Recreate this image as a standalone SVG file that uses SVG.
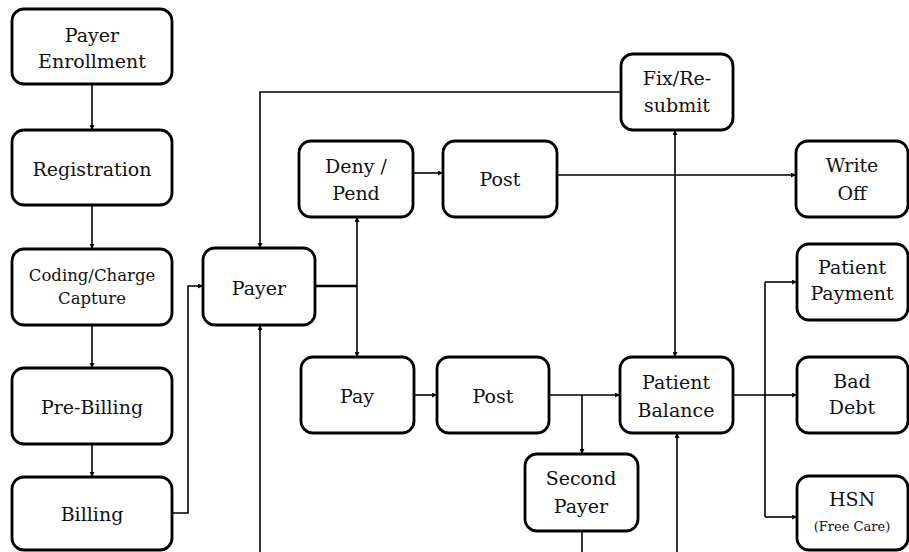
<svg xmlns="http://www.w3.org/2000/svg" width="909" height="552" viewBox="0 0 909 552">
  <style>
    .box { fill: #ffffff; stroke: #000000; stroke-width: 2.8; }
    .lbl { font-family: "DejaVu Serif", "Liberation Serif", serif; font-size: 19px; fill: #111111; text-anchor: middle; }
    .sm { font-size: 16.5px; }
    .xs { font-size: 13px; }
    .wire { fill: none; stroke: #000000; stroke-width: 1.6; }
    .arr { marker-end: url(#tip); }
  </style>
  <defs>
    <marker id="tip" viewBox="0 0 10 10" refX="10" refY="5" markerWidth="6" markerHeight="5" markerUnits="userSpaceOnUse" orient="auto">
      <path d="M0,0 L10,5 L0,10 z" fill="#000000"/>
    </marker>
  </defs>

  <rect width="909" height="552" fill="#ffffff"/>

  <!-- connectors -->
  <g id="connectors">
    <path class="wire arr" d="M92,84 V130"/>
    <path class="wire arr" d="M92,205 V249"/>
    <path class="wire arr" d="M92,325 V368"/>
    <path class="wire arr" d="M92,444 V477"/>
    <path class="wire arr" d="M172,513 H188 V286 H203"/>
    <path class="wire arr" d="M260,552 V325"/>
    <path class="wire arr" d="M621,92 H260 V248"/>
    <path class="wire" style="stroke-width:2.6" d="M315,286 H357"/>
    <path class="wire arr" d="M357,286 V217"/>
    <path class="wire arr" d="M357,286 V357"/>
    <path class="wire arr" d="M413,173 H443"/>
    <path class="wire arr" d="M557,175 H796"/>
    <path class="wire arr" d="M675,175 V130"/>
    <path class="wire arr" d="M675,175 V357"/>
    <path class="wire arr" d="M414,395 H437"/>
    <path class="wire arr" d="M549,395 H620"/>
    <path class="wire arr" d="M582,395 V454"/>
    <path class="wire" d="M582,531 V552"/>
    <path class="wire arr" d="M677,552 V433"/>
    <path class="wire" d="M733,395 H765 M765,282 V517"/>
    <path class="wire arr" d="M765,282 H797"/>
    <path class="wire arr" d="M765,395 H797"/>
    <path class="wire arr" d="M765,517 H797"/>
  </g>

  <!-- nodes -->
  <g id="payer-enrollment">
    <rect class="box" x="12" y="9" width="160" height="75" rx="12"/>
    <text class="lbl" x="92" y="42">Payer</text>
    <text class="lbl" x="92" y="68">Enrollment</text>
  </g>
  <g id="registration">
    <rect class="box" x="12" y="130" width="160" height="75" rx="12"/>
    <text class="lbl" x="92" y="176">Registration</text>
  </g>
  <g id="coding-charge-capture">
    <rect class="box" x="12" y="249" width="160" height="76" rx="12"/>
    <text class="lbl sm" x="92" y="281">Coding/Charge</text>
    <text class="lbl sm" x="92" y="304">Capture</text>
  </g>
  <g id="pre-billing">
    <rect class="box" x="12" y="368" width="160" height="76" rx="12"/>
    <text class="lbl" x="92" y="414">Pre-Billing</text>
  </g>
  <g id="billing">
    <rect class="box" x="12" y="477" width="160" height="73" rx="12"/>
    <text class="lbl" x="92" y="521">Billing</text>
  </g>
  <g id="payer">
    <rect class="box" x="203" y="248" width="112" height="77" rx="12"/>
    <text class="lbl" x="259" y="295">Payer</text>
  </g>
  <g id="deny-pend">
    <rect class="box" x="299" y="141" width="114" height="76" rx="12"/>
    <text class="lbl" x="356" y="173">Deny /</text>
    <text class="lbl" x="356" y="200">Pend</text>
  </g>
  <g id="post-denied">
    <rect class="box" x="443" y="141" width="114" height="76" rx="12"/>
    <text class="lbl" x="500" y="186">Post</text>
  </g>
  <g id="fix-resubmit">
    <rect class="box" x="621" y="54" width="112" height="76" rx="12"/>
    <text class="lbl" x="677" y="85">Fix/Re-</text>
    <text class="lbl" x="677" y="112">submit</text>
  </g>
  <g id="write-off">
    <rect class="box" x="796" y="141" width="112" height="76" rx="12"/>
    <text class="lbl" x="852" y="172">Write</text>
    <text class="lbl" x="852" y="200">Off</text>
  </g>
  <g id="patient-payment">
    <rect class="box" x="797" y="244" width="111" height="76" rx="12"/>
    <text class="lbl" x="852" y="274">Patient</text>
    <text class="lbl" x="852" y="300">Payment</text>
  </g>
  <g id="pay">
    <rect class="box" x="301" y="357" width="113" height="76" rx="12"/>
    <text class="lbl" x="357" y="403">Pay</text>
  </g>
  <g id="post-paid">
    <rect class="box" x="437" y="357" width="112" height="76" rx="12"/>
    <text class="lbl" x="493" y="403">Post</text>
  </g>
  <g id="patient-balance">
    <rect class="box" x="620" y="357" width="113" height="76" rx="12"/>
    <text class="lbl" x="676" y="389">Patient</text>
    <text class="lbl" x="676" y="417">Balance</text>
  </g>
  <g id="bad-debt">
    <rect class="box" x="797" y="357" width="111" height="76" rx="12"/>
    <text class="lbl" x="852" y="388">Bad</text>
    <text class="lbl" x="852" y="414">Debt</text>
  </g>
  <g id="second-payer">
    <rect class="box" x="525" y="454" width="113" height="77" rx="12"/>
    <text class="lbl" x="581" y="485">Second</text>
    <text class="lbl" x="581" y="513">Payer</text>
  </g>
  <g id="hsn">
    <rect class="box" x="797" y="476" width="111" height="74" rx="12"/>
    <text class="lbl" x="852" y="506">HSN</text>
    <text class="lbl xs" x="852" y="531">(Free Care)</text>
  </g>
</svg>
